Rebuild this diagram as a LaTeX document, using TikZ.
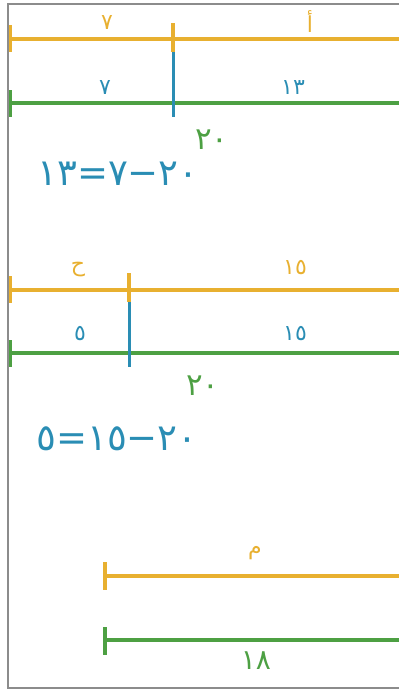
\documentclass[tikz,border=0pt]{standalone}
\usepackage{fontspec}
\newfontfamily\arabicfont[Script=Arabic]{DejaVu Sans}
\TeXXeTstate=1
\usepackage{tikz}
\usetikzlibrary{positioning}
\usepackage{xcolor}
\definecolor{barorange}{HTML}{E8B030}
\definecolor{bargreen}{HTML}{4DA043}
\definecolor{barblue}{HTML}{2A8DB4}
\definecolor{framegray}{HTML}{8C8C8C}

\begin{document}
\begin{tikzpicture}[
    x=1pt, y=-1pt,
    every node/.style={inner sep=0pt},
    frameline/.style={draw=framegray, line width=1.8pt},
    orangebar/.style={draw=barorange, line width=3.4pt},
    greenbar/.style={draw=bargreen, line width=3.4pt},
    splitmark/.style={draw=barblue, line width=3pt},
    lbl/.style={font=\arabicfont\fontsize{22}{24}\selectfont},
    total/.style={font=\arabicfont\fontsize{31}{34}\selectfont, text=bargreen},
    equation/.style={font=\arabicfont\fontsize{37}{40}\selectfont, text=barblue}
]
\useasboundingbox (0,0) rectangle (399,691);

% Frame
\draw[frameline] (399,4) -| (8,688) -- (399,688);

% First pair
\coordinate (o1s) at (10.5,39);  \coordinate (o1e) at (399,39);
\coordinate (g1s) at (10.5,103); \coordinate (g1e) at (399,103);
\coordinate (c1) at (173,39);    \coordinate (d1) at (173,103);
\draw[orangebar] (o1s) -- (o1e);
\draw[greenbar]  (g1s) -- (g1e);
\draw[orangebar] (o1s) ++(0,-14) -- ++(0,27);
\draw[greenbar]  (g1s) ++(0,-13) -- ++(0,27);
\draw[orangebar] (c1) ++(0,-16) -- ++(0,29);
\draw[splitmark] (c1) ++(0,13) -- ([yshift=-14pt]d1);
\node[lbl, text=barorange] (a7) at (107,23) {\beginR ٧\endR};
\node[lbl, text=barorange] (alif) at (310,22) {\beginR أ\endR};
\node[lbl, text=barblue] (b7) at (105,88) {\beginR ٧\endR};
\node[lbl, text=barblue] (b13) at (293,88) {\beginR ١٣\endR};
\node[total] (t1) at (212,140) {\beginR ٢٠\endR};
\node[equation] (eq1) at (118,174) {\beginR ٢٠−٧=١٣\endR};

% Second pair
\coordinate (o2s) at (10.5,290); \coordinate (o2e) at (399,290);
\coordinate (g2s) at (10.5,353); \coordinate (g2e) at (399,353);
\coordinate (c2) at (129,290);   \coordinate (d2) at (129,353);
\draw[orangebar] (o2s) -- (o2e);
\draw[greenbar]  (g2s) -- (g2e);
\draw[orangebar] (o2s) ++(0,-14) -- ++(0,27);
\draw[greenbar]  (g2s) ++(0,-13) -- ++(0,27);
\draw[orangebar] (c2) ++(0,-17) -- ++(0,29);
\draw[splitmark] (c2) ++(0,12) -- ([yshift=-14pt]d2);
\node[lbl, text=barorange] (ha) at (78,270) {\beginR ح\endR};
\node[lbl, text=barorange] (a15) at (295,268) {\beginR ١٥\endR};
\node[lbl, text=barblue] (b5) at (80,334) {\beginR ٥\endR};
\node[lbl, text=barblue] (b15) at (295,334) {\beginR ١٥\endR};
\node[total] (t2) at (203,386) {\beginR ٢٠\endR};
\node[equation] (eq2) at (117,439) {\beginR ٢٠−١٥=٥\endR};

% Third pair
\coordinate (o3s) at (105,576); \coordinate (o3e) at (399,576);
\coordinate (g3s) at (105,640); \coordinate (g3e) at (399,640);
\draw[orangebar] (o3s) -- (o3e);
\draw[greenbar]  (g3s) -- (g3e);
\draw[orangebar] (o3s) ++(0,-14) -- ++(0,28);
\draw[greenbar]  (g3s) ++(0,-13) -- ++(0,28);
\node[lbl, text=barorange] (mim) at (255,553) {\beginR م\endR};
\node[total, font=\arabicfont\fontsize{28}{30}\selectfont] (t3) at (256,661) {\beginR ١٨\endR};

\end{tikzpicture}
\end{document}
